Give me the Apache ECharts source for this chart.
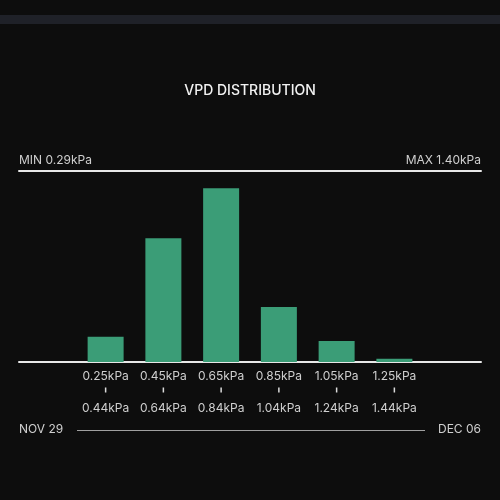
<!DOCTYPE html>
<html>
<head>
<meta charset="utf-8">
<script src="https://cdn.jsdelivr.net/npm/echarts@6/dist/echarts.min.js"></script>
<style>
  html, body { margin: 0; padding: 0; background: #0d0d0d; }
  #chart { width: 500px; height: 500px; }
</style>
</head>
<body>
<div id="chart"></div>
<script>
// bins (first and last slot are empty padding)
var binStart = ['', '0.25kPa', '0.45kPa', '0.65kPa', '0.85kPa', '1.05kPa', '1.25kPa', ''];
var binEnd = ['', '0.44kPa', '0.64kPa', '0.84kPa', '1.04kPa', '1.24kPa', '1.44kPa', ''];
// share of readings per bin, %
var share = [null, 6.3, 30.8, 43.2, 13.7, 5.2, 0.8, null];
var minText = 'MIN 0.29kPa';
var maxText = 'MAX 1.40kPa';
var dateFrom = 'NOV 29';
var dateTo = 'DEC 06';

var chart = echarts.init(document.getElementById('chart'));
var font = 'Inter, "Noto Sans", sans-serif';
var topVal = Math.max.apply(null, share.filter(function (v) { return v != null; })) * 1.1;

var option = {
  backgroundColor: '#0d0d0d',
  animation: false,
  title: {
    text: 'VPD DISTRIBUTION',
    left: 'center',
    top: 79,
    textStyle: { color: '#f2f2f2', fontSize: 14, fontWeight: 500, fontFamily: font }
  },
  grid: { left: 19, right: 19, top: 171, bottom: 138 },
  xAxis: [{
    type: 'category',
    data: binStart,
    axisLine: { lineStyle: { color: '#e8e8e8', width: 2 } },
    axisTick: { show: false },
    axisLabel: {
      interval: 0,
      margin: 7,
      formatter: function (v, i) {
        if (!v) return '';
        return '{a|' + v + '}\n{t|}\n{b|' + binEnd[i] + '}';
      },
      rich: {
        a: { color: '#cfcfcf', fontSize: 12, lineHeight: 14, fontFamily: font },
        t: { width: 1.5, height: 5, backgroundColor: '#dcdcdc', lineHeight: 14 },
        b: { color: '#cfcfcf', fontSize: 12, lineHeight: 22, fontFamily: font }
      }
    }
  }, {
    type: 'category',
    position: 'top',
    data: binStart,
    axisLine: { lineStyle: { color: '#e8e8e8', width: 2 } },
    axisTick: { show: false },
    axisLabel: { show: false }
  }],
  yAxis: {
    type: 'value',
    min: 0,
    max: topVal,
    show: false,
    splitLine: { show: false }
  },
  series: [{
    type: 'bar',
    data: share,
    barWidth: 36,
    itemStyle: { color: '#3b9d77' }
  }],
  graphic: [
    { type: 'rect', left: 0, top: 15, shape: { width: 500, height: 9 }, style: { fill: '#1f2128' } },
    { type: 'text', left: 19, top: 154, style: { text: minText, fill: '#cfcfcf', font: '12px ' + font } },
    { type: 'text', right: 19, top: 154, style: { text: maxText, fill: '#cfcfcf', font: '12px ' + font } },
    { type: 'text', left: 19, top: 423, style: { text: dateFrom, fill: '#cfcfcf', font: '12px ' + font } },
    { type: 'text', right: 19, top: 423, style: { text: dateTo, fill: '#cfcfcf', font: '12px ' + font } },
    { type: 'line', shape: { x1: 77, y1: 430.5, x2: 425, y2: 430.5 }, style: { stroke: '#a0a0a0', lineWidth: 1 } }
  ]
};
chart.setOption(option);
</script>
</body>
</html>
